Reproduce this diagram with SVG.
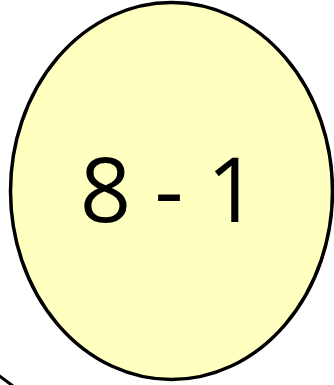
<svg xmlns="http://www.w3.org/2000/svg" width="334" height="385" viewBox="0 0 334 385">
<style>
.node{fill:#FFFFC0;stroke:#000;stroke-width:3.5}
.lbl{font-family:"Open Sans","Noto Sans",sans-serif;font-size:90px;fill:#000;text-anchor:middle}
.edge{stroke:#000;stroke-width:3;fill:none}
</style>
<g id="connectors">
<line class="edge" x1="-2" y1="375" x2="13" y2="386"/>
</g>
<g id="node-8-1">
<ellipse class="node" cx="171.5" cy="191" rx="161" ry="188.5"/>
<text class="lbl" x="169" y="222">8 - 1</text>
</g>
</svg>
